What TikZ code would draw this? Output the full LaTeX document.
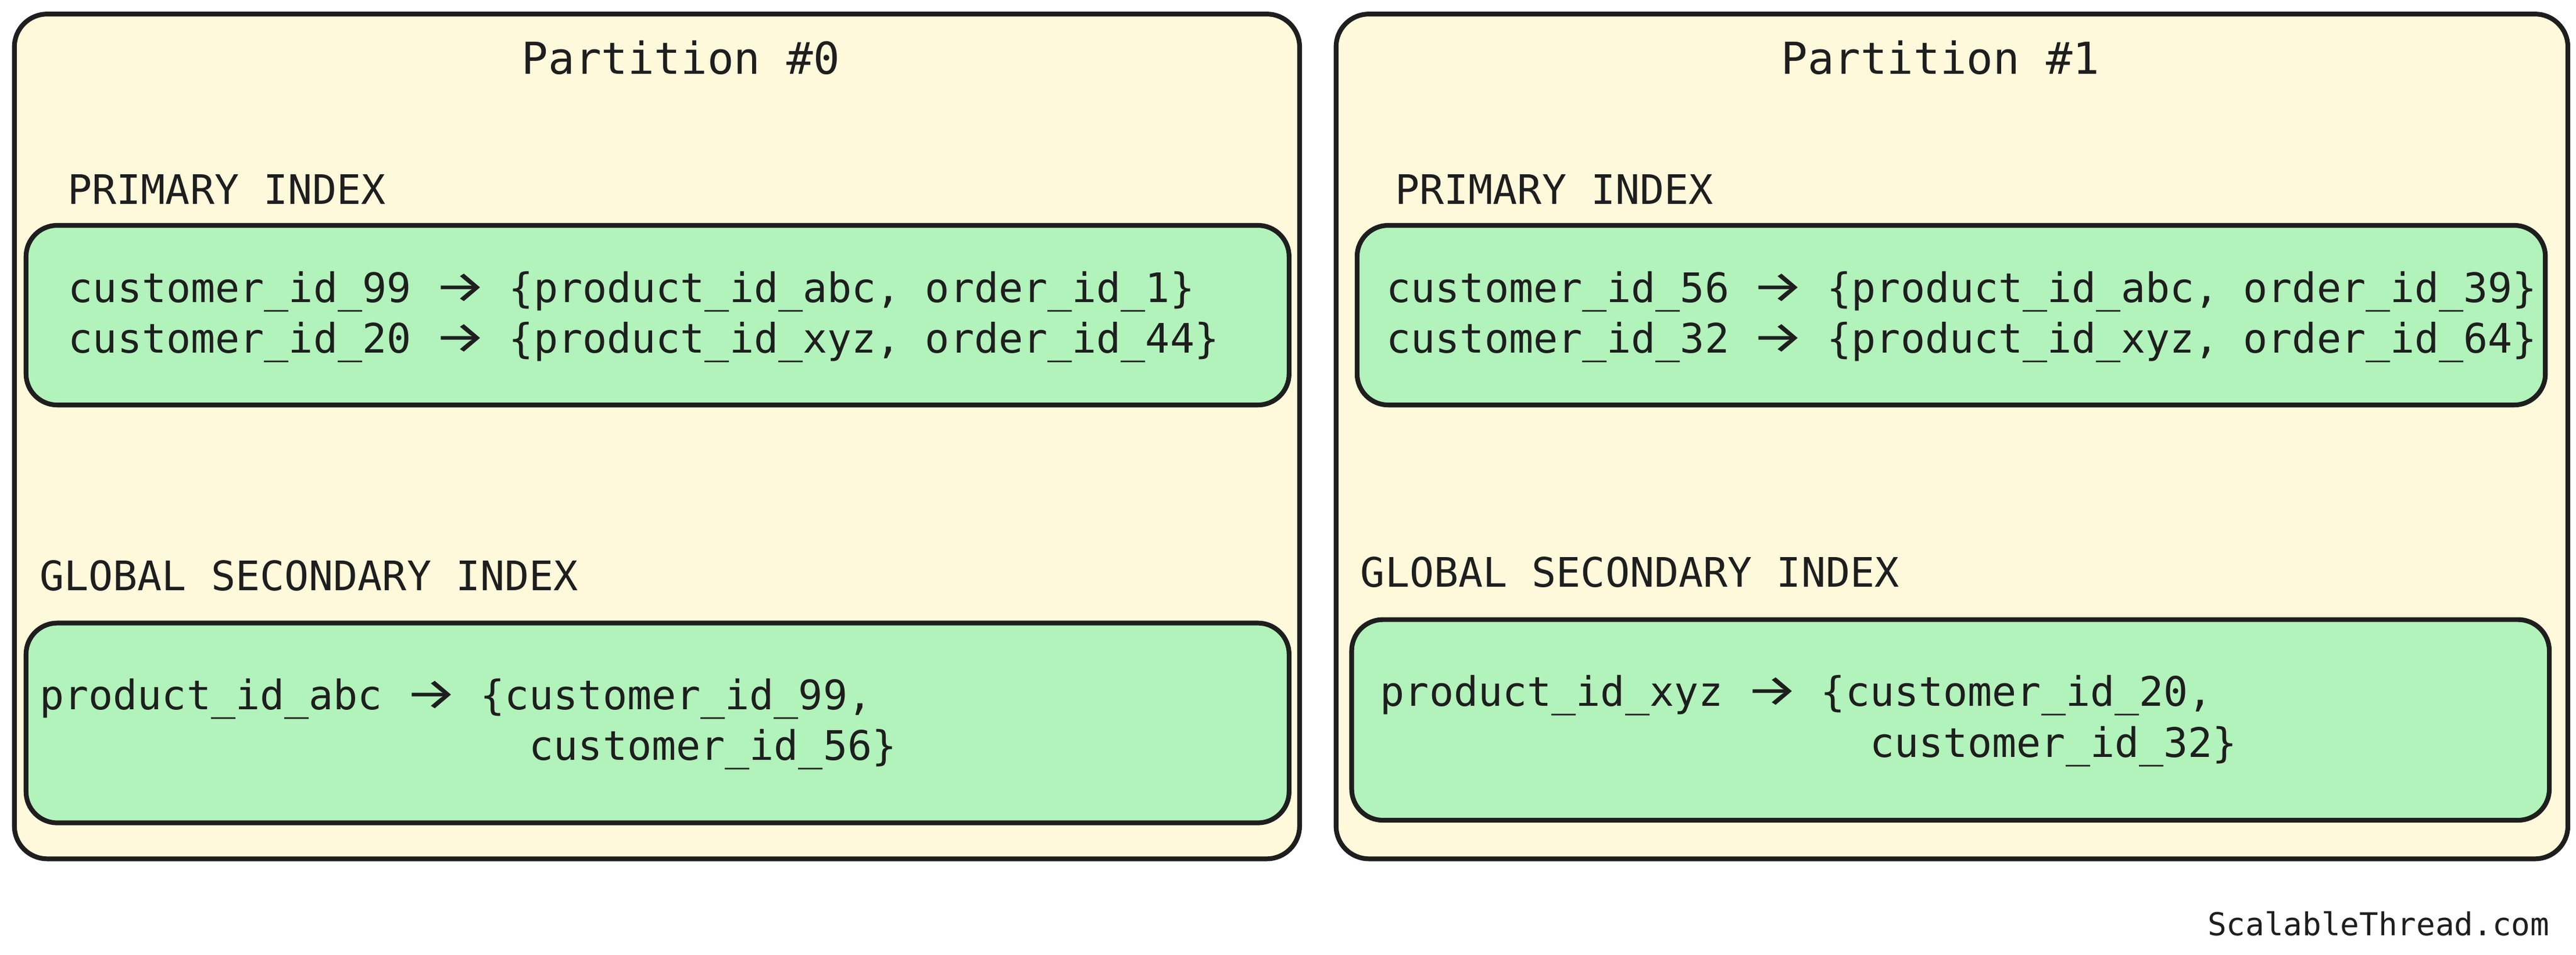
\documentclass[tikz,border=0pt]{standalone}
\usepackage{fontspec}
\usepackage{graphicx}
\newfontfamily\mono{DejaVu Sans Mono}
\newfontfamily\arrfont{Fira Sans}
\newcommand{\arr}{\makebox[1.204em][c]{\arrfont\scalebox{1.45}[1.1]{→}}}
\definecolor{ink}{HTML}{1E1E1E}
\definecolor{partfill}{HTML}{FFF9DB}
\definecolor{greenfill}{HTML}{B2F2BB}
\begin{document}
\begin{tikzpicture}[x=1pt,y=-1pt,
  partbox/.style={draw=ink, fill=partfill, line width=2.9pt, rounded corners=20pt, inner sep=0pt, anchor=north west},
  greenbox/.style={draw=ink, fill=greenfill, line width=2.9pt, rounded corners=19pt, inner sep=0pt, anchor=north west},
  body/.style={anchor=base west, inner sep=0pt, text=ink, font=\mono\fontsize{24.75}{30}\selectfont},
  title/.style={anchor=base, inner sep=0pt, text=ink, font=\mono\fontsize{26.8}{32}\selectfont},
  footer/.style={anchor=base east, inner sep=0pt, text=ink, font=\mono\fontsize{19.2}{23}\selectfont}]
\useasboundingbox[fill=white] (0,0) rectangle (1568,581.6);
% partitions
\node[partbox, minimum width=782.3pt, minimum height=514.5pt] (part0) at (7.3,7.1) {};
\node[partbox, minimum width=749.8pt, minimum height=514.5pt] (part1) at (811.8,7.1) {};
% green boxes
\node[greenbox, minimum width=768.8pt, minimum height=109.4pt] (prim0) at (14.4,135.8) {};
\node[greenbox, minimum width=768.8pt, minimum height=121.7pt] (gsi0) at (14.4,378) {};
\node[greenbox, minimum width=723.3pt, minimum height=109.4pt] (prim1) at (824.6,135.8) {};
\node[greenbox, minimum width=729pt, minimum height=122.2pt] (gsi1) at (821.3,375.9) {};
% titles
\node[title] (t0) at (414.5,45) {Partition \#0};
\node[title] (t1) at (1181,45) {Partition \#1};
% labels
\node[body] (pl0) at (41,124.2) {PRIMARY INDEX};
\node[body] (pl1) at (849,124.2) {PRIMARY INDEX};
\node[body] (gl0) at (24,359.6) {GLOBAL SECONDARY INDEX};
\node[body] (gl1) at (828,357.5) {GLOBAL SECONDARY INDEX};
% primary index entries
\node[body] (a1) at (41.5,184) {customer\_id\_99 \arr{} \{product\_id\_abc, order\_id\_1\}};
\node[body] (a2) at (41.5,214.8) {customer\_id\_20 \arr{} \{product\_id\_xyz, order\_id\_44\}};
\node[body] (b1) at (843.8,184) {customer\_id\_56 \arr{} \{product\_id\_abc, order\_id\_39\}};
\node[body] (b2) at (843.8,214.8) {customer\_id\_32 \arr{} \{product\_id\_xyz, order\_id\_64\}};
% gsi entries
\node[body] (c1) at (24,432) {product\_id\_abc \arr{} \{customer\_id\_99,};
\node[body] (c2) at (322,463) {customer\_id\_56\}};
\node[body] (d1) at (840,430.2) {product\_id\_xyz \arr{} \{customer\_id\_20,};
\node[body] (d2) at (1138,461) {customer\_id\_32\}};
% footer
\node[footer] (foot) at (1552,569.6) {ScalableThread.com};
\end{tikzpicture}
\end{document}
